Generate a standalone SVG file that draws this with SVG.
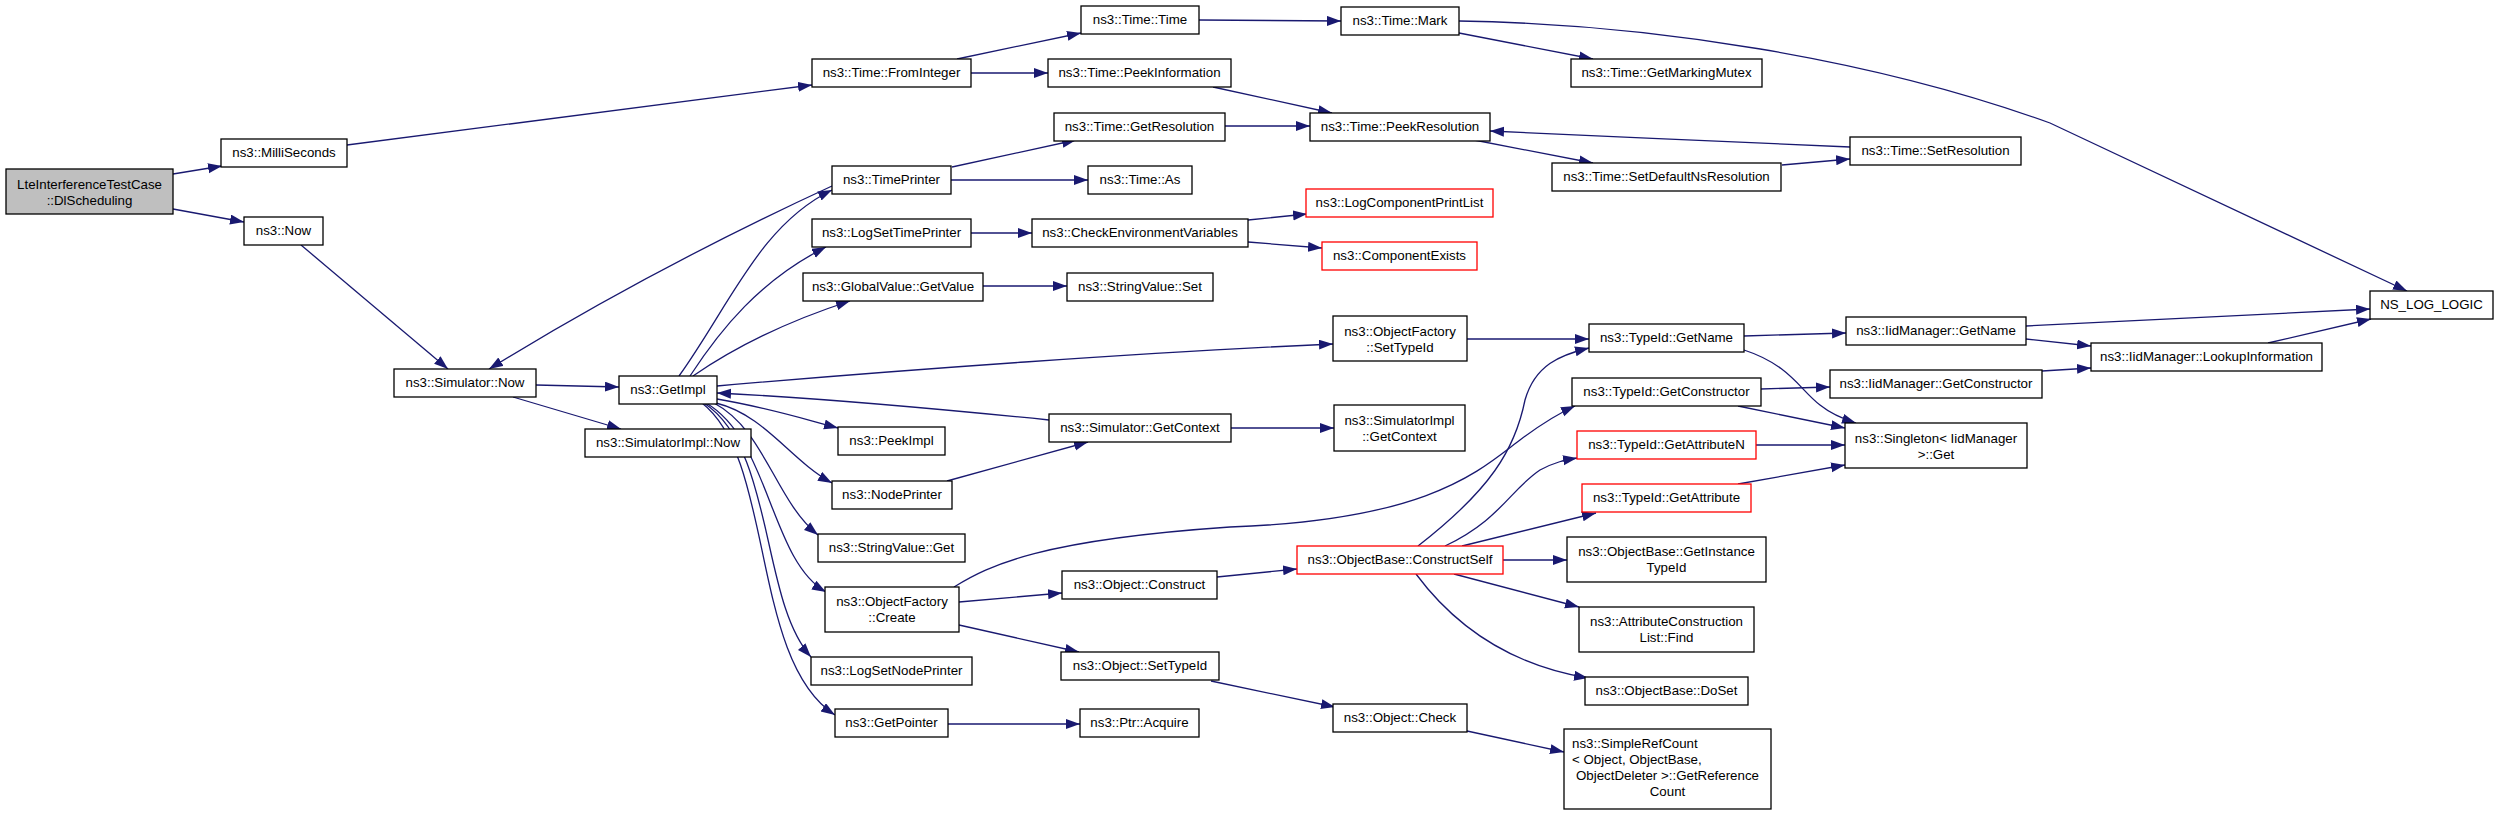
<svg xmlns="http://www.w3.org/2000/svg" width="2499" height="815" viewBox="0 0 2499 815">
<style>
.n rect{fill:#fff;stroke:#000;stroke-width:1.3}
.n.r rect{stroke:#f00}
.n.root rect{fill:#bfbfbf}
text{font-family:"Liberation Sans",Arial,Helvetica,sans-serif;font-size:13.3px;text-anchor:middle;fill:#000}
text.l{text-anchor:start}
#edges path{fill:none;stroke:#191970;stroke-width:1.3;marker-end:url(#a)}
</style>
<defs>
<marker id="a" markerUnits="userSpaceOnUse" markerWidth="15" markerHeight="11" refX="14" refY="5" orient="auto" viewBox="0 0 15 11">
<path d="M0,0 L14,5 L0,10 z" fill="#191970"/>
</marker>
</defs>
<rect width="2499" height="815" fill="#fff"/>
<g id="edges">
<path d="M173,174 L222,166"/>
<path d="M173,209 L244,222"/>
<path d="M347,145 L812,85"/>
<path d="M957,59 L1081,33"/>
<path d="M971,73 L1048,73"/>
<path d="M1199,20 L1341,21"/>
<path d="M1459,33 L1593,59"/>
<path d="M1459,21 C1650,24 1870,58 2050,123 L2407,291"/>
<path d="M1213,87 L1332,113"/>
<path d="M1225,126 L1310,126"/>
<path d="M1474,140 L1593,163"/>
<path d="M1782,165 L1850,159"/>
<path d="M1850,147 C1750,143 1600,136 1490,131"/>
<path d="M301,245 L448,369"/>
<path d="M832,186 Q650,270 489,369"/>
<path d="M536,385 L619,387"/>
<path d="M513,397 L621,429"/>
<path d="M679,376 C730,305 760,225 832,190"/>
<path d="M690,376 C720,330 760,280 826,247"/>
<path d="M693,376 Q760,330 850,301"/>
<path d="M717,386 C900,370 1150,352 1333,344"/>
<path d="M1049,420 C950,410 820,398 717,393"/>
<path d="M717,399 C770,408 800,418 838,428"/>
<path d="M716,403 C765,415 790,460 832,483"/>
<path d="M714,403 C765,430 775,500 818,535"/>
<path d="M706,403 C770,440 770,560 826,592"/>
<path d="M704,403 C775,450 760,600 811,657"/>
<path d="M702,403 C775,460 750,660 835,715"/>
<path d="M952,167 L1076,140"/>
<path d="M951,180 L1088,180"/>
<path d="M971,233 L1032,233"/>
<path d="M1248,220 L1307,214"/>
<path d="M1248,242 L1322,248"/>
<path d="M983,286 L1067,286"/>
<path d="M947,481 L1088,442"/>
<path d="M1231,428 L1334,428"/>
<path d="M1467,339 L1589,339"/>
<path d="M954,587 C990,565 1040,540 1230,527 C1430,520 1480,470 1520,440 C1540,425 1555,415 1575,406"/>
<path d="M959,602 L1062,593"/>
<path d="M959,625 L1079,652"/>
<path d="M1217,577 L1297,569"/>
<path d="M1418,546 C1490,490 1515,450 1525,400 C1535,365 1560,355 1589,348"/>
<path d="M1445,546 C1500,520 1510,490 1540,470 C1555,462 1565,460 1577,458"/>
<path d="M1462,546 L1596,513"/>
<path d="M1503,560 L1567,560"/>
<path d="M1454,574 L1579,607"/>
<path d="M1416,574 Q1480,660 1588,678"/>
<path d="M1211,681 L1335,707"/>
<path d="M1467,731 L1564,752"/>
<path d="M948,724 L1080,724"/>
<path d="M1744,336 L1846,333"/>
<path d="M1744,350 C1790,365 1800,390 1820,405 C1830,413 1840,418 1856,423"/>
<path d="M1761,389 L1830,387"/>
<path d="M1738,406 L1845,428"/>
<path d="M1756,445 L1845,445"/>
<path d="M1738,484 L1845,465"/>
<path d="M2026,326 L2370,309"/>
<path d="M2026,339 L2091,346"/>
<path d="M2042,371 L2091,368"/>
<path d="M2268,343 L2371,319"/>
</g>
<g id="n_root" class="n root"><rect x="6" y="169" width="167" height="45"/><text x="89.5" y="188.5">LteInterferenceTestCase</text><text x="89.5" y="204.5">::DlScheduling</text></g>
<g id="n_milliseconds" class="n"><rect x="221" y="139" width="126" height="28"/><text x="284" y="157">ns3::MilliSeconds</text></g>
<g id="n_now" class="n"><rect x="244" y="217" width="79" height="28"/><text x="283.5" y="235">ns3::Now</text></g>
<g id="n_time_time" class="n"><rect x="1081" y="6" width="118" height="28"/><text x="1140" y="24">ns3::Time::Time</text></g>
<g id="n_time_mark" class="n"><rect x="1341" y="7" width="118" height="28"/><text x="1400" y="25">ns3::Time::Mark</text></g>
<g id="n_frominteger" class="n"><rect x="812" y="59" width="159" height="28"/><text x="891.5" y="77">ns3::Time::FromInteger</text></g>
<g id="n_peekinformation" class="n"><rect x="1048" y="59" width="183" height="28"/><text x="1139.5" y="77">ns3::Time::PeekInformation</text></g>
<g id="n_getmarkingmutex" class="n"><rect x="1571" y="59" width="191" height="28"/><text x="1666.5" y="77">ns3::Time::GetMarkingMutex</text></g>
<g id="n_getresolution" class="n"><rect x="1054" y="113" width="171" height="28"/><text x="1139.5" y="131">ns3::Time::GetResolution</text></g>
<g id="n_peekresolution" class="n"><rect x="1310" y="113" width="180" height="28"/><text x="1400" y="131">ns3::Time::PeekResolution</text></g>
<g id="n_setresolution" class="n"><rect x="1850" y="137" width="171" height="28"/><text x="1935.5" y="155">ns3::Time::SetResolution</text></g>
<g id="n_timeprinter" class="n"><rect x="832" y="166" width="119" height="28"/><text x="891.5" y="184">ns3::TimePrinter</text></g>
<g id="n_time_as" class="n"><rect x="1088" y="166" width="104" height="28"/><text x="1140" y="184">ns3::Time::As</text></g>
<g id="n_setdefaultns" class="n"><rect x="1552" y="163" width="229" height="28"/><text x="1666.5" y="181">ns3::Time::SetDefaultNsResolution</text></g>
<g id="n_logcomponentprintlist" class="n r"><rect x="1306" y="189" width="187" height="28"/><text x="1399.5" y="207">ns3::LogComponentPrintList</text></g>
<g id="n_logsettimeprinter" class="n"><rect x="812" y="219" width="159" height="28"/><text x="891.5" y="237">ns3::LogSetTimePrinter</text></g>
<g id="n_checkenv" class="n"><rect x="1032" y="219" width="216" height="28"/><text x="1140" y="237">ns3::CheckEnvironmentVariables</text></g>
<g id="n_componentexists" class="n r"><rect x="1322" y="242" width="155" height="28"/><text x="1399.5" y="260">ns3::ComponentExists</text></g>
<g id="n_globalvalue_getvalue" class="n"><rect x="803" y="273" width="180" height="28"/><text x="893" y="291">ns3::GlobalValue::GetValue</text></g>
<g id="n_stringvalue_set" class="n"><rect x="1067" y="273" width="146" height="28"/><text x="1140" y="291">ns3::StringValue::Set</text></g>
<g id="n_ns_log_logic" class="n"><rect x="2370" y="291" width="123" height="28"/><text x="2431.5" y="309">NS_LOG_LOGIC</text></g>
<g id="n_objectfactory_settypeid" class="n"><rect x="1333" y="316" width="134" height="45"/><text x="1400" y="335.5">ns3::ObjectFactory</text><text x="1400" y="351.5">::SetTypeId</text></g>
<g id="n_iid_getname" class="n"><rect x="1846" y="317" width="180" height="28"/><text x="1936" y="335">ns3::IidManager::GetName</text></g>
<g id="n_typeid_getname" class="n"><rect x="1589" y="324" width="155" height="28"/><text x="1666.5" y="342">ns3::TypeId::GetName</text></g>
<g id="n_iid_lookup" class="n"><rect x="2091" y="343" width="231" height="28"/><text x="2206.5" y="361">ns3::IidManager::LookupInformation</text></g>
<g id="n_simulator_now" class="n"><rect x="394" y="369" width="142" height="28"/><text x="465" y="387">ns3::Simulator::Now</text></g>
<g id="n_iid_getconstructor" class="n"><rect x="1830" y="370" width="212" height="28"/><text x="1936" y="388">ns3::IidManager::GetConstructor</text></g>
<g id="n_getimpl" class="n"><rect x="619" y="376" width="98" height="28"/><text x="668" y="394">ns3::GetImpl</text></g>
<g id="n_typeid_getconstructor" class="n"><rect x="1572" y="378" width="189" height="28"/><text x="1666.5" y="396">ns3::TypeId::GetConstructor</text></g>
<g id="n_simimpl_getcontext" class="n"><rect x="1334" y="405" width="131" height="46"/><text x="1399.5" y="424.5">ns3::SimulatorImpl</text><text x="1399.5" y="440.5">::GetContext</text></g>
<g id="n_simulator_getcontext" class="n"><rect x="1049" y="414" width="182" height="28"/><text x="1140" y="432">ns3::Simulator::GetContext</text></g>
<g id="n_singleton_get" class="n"><rect x="1845" y="423" width="182" height="45"/><text x="1936" y="442.5">ns3::Singleton&lt; IidManager</text><text x="1936" y="458.5">&gt;::Get</text></g>
<g id="n_peekimpl" class="n"><rect x="838" y="427" width="107" height="28"/><text x="891.5" y="445">ns3::PeekImpl</text></g>
<g id="n_simimpl_now" class="n"><rect x="585" y="429" width="166" height="28"/><text x="668" y="447">ns3::SimulatorImpl::Now</text></g>
<g id="n_getattributen" class="n r"><rect x="1577" y="431" width="179" height="28"/><text x="1666.5" y="449">ns3::TypeId::GetAttributeN</text></g>
<g id="n_nodeprinter" class="n"><rect x="832" y="481" width="120" height="28"/><text x="892" y="499">ns3::NodePrinter</text></g>
<g id="n_getattribute" class="n r"><rect x="1582" y="484" width="169" height="28"/><text x="1666.5" y="502">ns3::TypeId::GetAttribute</text></g>
<g id="n_stringvalue_get" class="n"><rect x="818" y="534" width="147" height="28"/><text x="891.5" y="552">ns3::StringValue::Get</text></g>
<g id="n_getinstancetypeid" class="n"><rect x="1567" y="537" width="199" height="45"/><text x="1666.5" y="556">ns3::ObjectBase::GetInstance</text><text x="1666.5" y="572">TypeId</text></g>
<g id="n_constructself" class="n r"><rect x="1297" y="546" width="206" height="28"/><text x="1400" y="564">ns3::ObjectBase::ConstructSelf</text></g>
<g id="n_object_construct" class="n"><rect x="1062" y="571" width="155" height="28"/><text x="1139.5" y="589">ns3::Object::Construct</text></g>
<g id="n_objectfactory_create" class="n"><rect x="825" y="587" width="134" height="45"/><text x="892" y="606">ns3::ObjectFactory</text><text x="892" y="622">::Create</text></g>
<g id="n_attrconstruction_find" class="n"><rect x="1579" y="607" width="175" height="45"/><text x="1666.5" y="626">ns3::AttributeConstruction</text><text x="1666.5" y="642">List::Find</text></g>
<g id="n_object_settypeid" class="n"><rect x="1061" y="652" width="158" height="28"/><text x="1140" y="670">ns3::Object::SetTypeId</text></g>
<g id="n_logsetnodeprinter" class="n"><rect x="811" y="657" width="161" height="28"/><text x="891.5" y="675">ns3::LogSetNodePrinter</text></g>
<g id="n_doset" class="n"><rect x="1585" y="677" width="163" height="28"/><text x="1666.5" y="695">ns3::ObjectBase::DoSet</text></g>
<g id="n_object_check" class="n"><rect x="1333" y="704" width="134" height="28"/><text x="1400" y="722">ns3::Object::Check</text></g>
<g id="n_getpointer" class="n"><rect x="835" y="709" width="113" height="28"/><text x="891.5" y="727">ns3::GetPointer</text></g>
<g id="n_ptr_acquire" class="n"><rect x="1080" y="709" width="119" height="28"/><text x="1139.5" y="727">ns3::Ptr::Acquire</text></g>
<g id="n_simplerefcount" class="n"><rect x="1564" y="729" width="207" height="80"/><text class="l" x="1572" y="748">ns3::SimpleRefCount</text><text class="l" x="1572" y="764">&lt; Object, ObjectBase,</text><text class="l" x="1576" y="780">ObjectDeleter &gt;::GetReference</text><text x="1667.5" y="796">Count</text></g>
</svg>
